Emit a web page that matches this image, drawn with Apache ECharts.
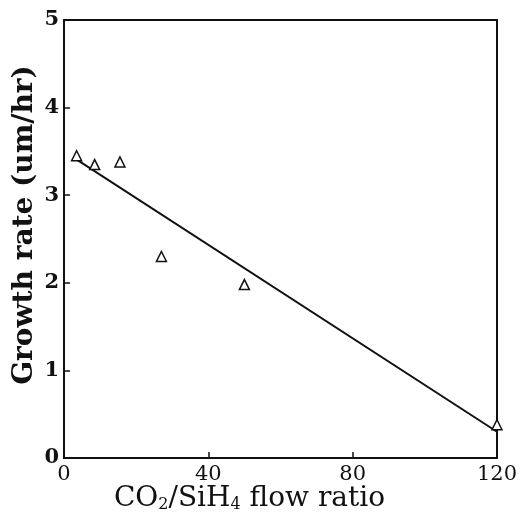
<!DOCTYPE html>
<html>
<head>
<meta charset="utf-8">
<script src="https://cdn.jsdelivr.net/npm/echarts@6/dist/echarts.min.js"></script>
<style>
html, body { margin: 0; padding: 0; background: #fff; }
#chart { width: 521px; height: 517px; }
</style>
</head>
<body>
<div id="chart"></div>
<script>
// measured points (CO2/SiH4 ratio, growth rate)
const ratio = [3.5, 8.5, 15.5, 27, 50, 120];
const rate = [3.45, 3.35, 3.38, 2.3, 1.98, 0.38];
// fitted line ends
const fitX = [3, 120];
const fitY = [3.42, 0.3];

const font = 'DejaVu Serif';

echarts.init(document.getElementById('chart')).setOption({
	animation: false,
	grid: {
		left: 64,
		right: 24,
		top: 20,
		bottom: 59,
		outerBoundsMode: 'none',
		show: true,
		borderColor: '#111',
		borderWidth: 2
	},
	xAxis: {
		type: 'value',
		min: 0,
		max: 120,
		interval: 40,
		splitLine: { show: false },
		axisLine: { lineStyle: { color: '#111', width: 2 } },
		axisTick: { inside: true, length: 6, lineStyle: { color: '#111', width: 1.5 } },
		axisLabel: { fontFamily: font, fontSize: 21, color: '#111', margin: 6 },
		name: 'CO{sub|2}/SiH{sub|4} flow ratio',
		nameLocation: 'middle',
		nameMoveOverlap: false,
		nameGap: 27,
		nameTextStyle: {
			fontFamily: font,
			fontSize: 28,
			color: '#111',
			padding: [0, 62, 0, 0],
			rich: {
				sub: { fontFamily: font, fontSize: 16, color: '#111', verticalAlign: 'bottom', padding: [10, 0, 0, 0] }
			}
		}
	},
	yAxis: {
		type: 'value',
		min: 0,
		max: 5,
		interval: 1,
		splitLine: { show: false },
		axisLine: { lineStyle: { color: '#111', width: 2 } },
		axisTick: { inside: true, length: 6, lineStyle: { color: '#111', width: 1.5 } },
		axisLabel: { fontFamily: font, fontSize: 21, fontWeight: 'bold', color: '#111', margin: 5 },
		name: 'Growth rate (um/hr)',
		nameLocation: 'middle',
		nameMoveOverlap: false,
		nameGap: 25,
		nameTextStyle: { fontFamily: font, fontSize: 28, fontWeight: 'bold', color: '#111', padding: [0, 0, 0, 28] }
	},
	series: [
		{
			type: 'line',
			data: fitX.map((x, i) => [x, fitY[i]]),
			symbol: 'none',
			lineStyle: { color: '#111', width: 2 }
		},
		{
			type: 'scatter',
			data: ratio.map((x, i) => [x, rate[i]]),
			symbol: 'triangle',
			symbolSize: 10,
			clip: false,
			itemStyle: { color: '#fff', borderColor: '#111', borderWidth: 1.5, opacity: 1 },
			z: 3
		}
	]
});
</script>
</body>
</html>
